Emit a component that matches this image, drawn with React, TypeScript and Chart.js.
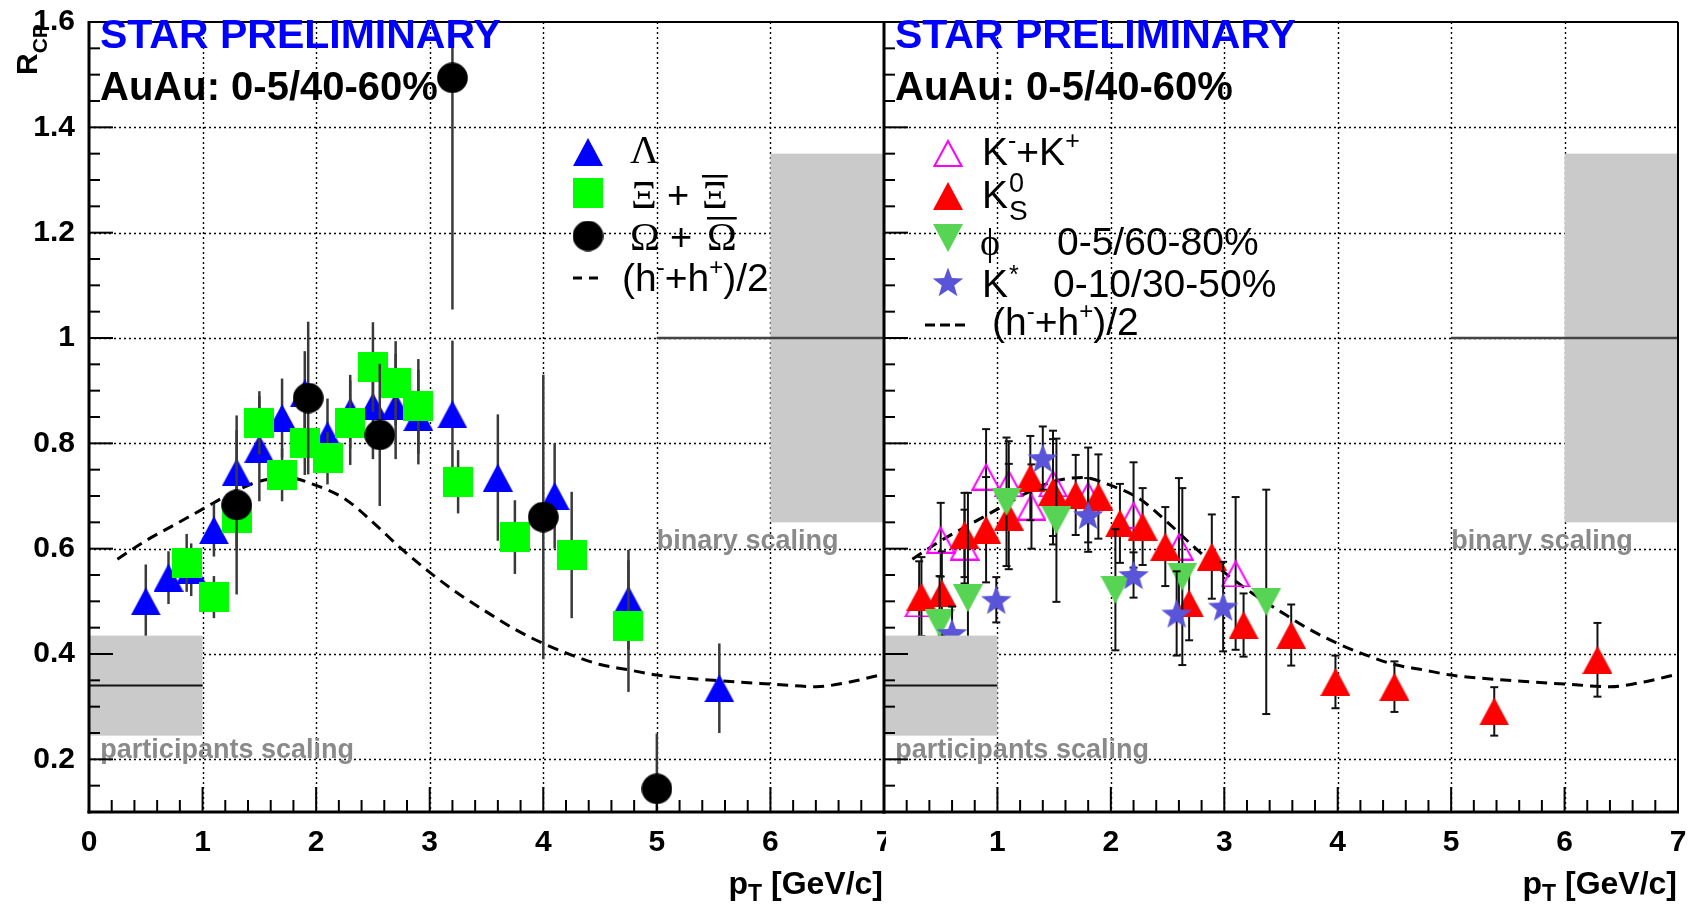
import { useEffect, useRef } from 'react';
import { Chart, registerables } from 'chart.js';

Chart.register(...registerables);

const SANS = '"Liberation Sans", Arial, Helvetica, sans-serif';
const SERIF = '"Liberation Serif", "Times New Roman", serif';

// ---- axes ----
const ptRange = [0, 7];
const rcpRange = [0.1, 1.6];
const rcpTickLabels = [0.2, 0.4, 0.6, 0.8, 1.0, 1.2, 1.4, 1.6];
const ptTickLabelsLeft = [0, 1, 2, 3, 4, 5, 6, 7];
const ptTickLabelsRight = [1, 2, 3, 4, 5, 6, 7];
const ptGrid = [1, 2, 3, 4, 5, 6];
const rcpGrid = [0.2, 0.4, 0.6, 0.8, 1.0, 1.2, 1.4];

// ---- scaling expectations: [value, half-width] ----
const participantsBand = [0.34, 0.095];
const binaryBand = [1.0, 0.35];

// ---- (h- + h+)/2 reference ----
const hadronPt = [0.25, 0.5, 0.75, 1.0, 1.25, 1.5, 1.75, 2.0, 2.25, 2.5, 2.75, 3.0, 3.25, 3.5, 3.75, 4.0, 4.25, 4.5, 4.75, 5.0, 5.5, 6.0, 6.4, 6.7, 7.0];
const hadronRcp = [0.58, 0.615, 0.645, 0.675, 0.705, 0.728, 0.735, 0.72, 0.695, 0.65, 0.6, 0.555, 0.515, 0.48, 0.447, 0.42, 0.398, 0.38, 0.37, 0.36, 0.35, 0.343, 0.338, 0.347, 0.362];

// ---- strange baryons (0-5/40-60%) ----
const lambdaPt = [0.5, 0.7, 0.9, 1.1, 1.3, 1.5, 1.7, 1.9, 2.1, 2.3, 2.5, 2.7, 2.9, 3.2, 3.6, 4.1, 4.75, 5.55];
const lambdaRcp = [0.5, 0.545, 0.56, 0.635, 0.745, 0.79, 0.848, 0.895, 0.815, 0.86, 0.87, 0.87, 0.85, 0.855, 0.735, 0.7, 0.503, 0.335];
const lambdaErr = [0.07, 0.05, 0.05, 0.05, 0.08, 0.1, 0.075, 0.08, 0.07, 0.07, 0.1, 0.1, 0.09, 0.14, 0.12, 0.1, 0.095, 0.085];

const xiPt = [0.86, 1.1, 1.3, 1.5, 1.7, 1.9, 2.1, 2.3, 2.5, 2.7, 2.9, 3.25, 3.75, 4.25, 4.75];
const xiRcp = [0.573, 0.508, 0.658, 0.839, 0.74, 0.8, 0.772, 0.839, 0.945, 0.914, 0.87, 0.727, 0.622, 0.588, 0.453];
const xiErr = [0.055, 0.04, 0.06, 0.06, 0.05, 0.06, 0.05, 0.08, 0.085, 0.08, 0.09, 0.06, 0.07, 0.12, 0.125];

const omegaPt = [1.3, 1.93, 2.56, 3.2, 4.0, 5.0];
const omegaRcp = [0.683, 0.886, 0.816, 1.494, 0.66, 0.144];
const omegaErr = [0.17, 0.145, 0.135, 0.44, 0.27, 0.105];

// ---- mesons ----
const kpmPt = [0.31, 0.5, 0.71, 0.9, 1.1, 1.3, 1.49, 1.8, 2.2, 2.6, 3.1];
const kpmRcp = [0.496, 0.617, 0.604, 0.737, 0.724, 0.68, 0.724, 0.702, 0.664, 0.604, 0.553];
const kpmErr = [0.08, 0.07, 0.07, 0.09, 0.08, 0.08, 0.1, 0.09, 0.1, 0.13, 0.145];

const k0sPt = [0.33, 0.51, 0.71, 0.9, 1.1, 1.29, 1.49, 1.69, 1.89, 2.08, 2.28, 2.48, 2.69, 2.89, 3.17, 3.59, 3.98, 4.5, 5.38, 6.29];
const k0sRcp = [0.509, 0.515, 0.626, 0.636, 0.661, 0.734, 0.708, 0.702, 0.699, 0.648, 0.642, 0.604, 0.496, 0.585, 0.455, 0.436, 0.347, 0.338, 0.291, 0.389];
const k0sErr = [0.075, 0.08, 0.08, 0.1, 0.1, 0.08, 0.1, 0.076, 0.08, 0.075, 0.073, 0.075, 0.07, 0.08, 0.06, 0.058, 0.05, 0.048, 0.046, 0.07];

const phiPt = [0.49, 0.74, 1.08, 1.52, 2.04, 2.63, 3.37];
const phiRcp = [0.458, 0.506, 0.689, 0.654, 0.522, 0.547, 0.499];
const phiErr = [0.09, 0.2, 0.122, 0.155, 0.115, 0.168, 0.213];

const kstarPt = [0.6, 0.99, 1.4, 1.8, 2.2, 2.58, 2.99];
const kstarRcp = [0.44, 0.503, 0.772, 0.664, 0.55, 0.477, 0.49];
const kstarErr = [0.05, 0.043, 0.06, 0.07, 0.043, 0.08, 0.085];

const toPoints = (xs: number[], ys: number[]) => xs.map((x, i) => ({ x, y: ys[i] }));

// ---- marker images (centred on their bounding box) ----
function makeMarker(w: number, h: number, draw: (c: CanvasRenderingContext2D) => void) {
  const cv = document.createElement('canvas');
  cv.width = w;
  cv.height = h;
  draw(cv.getContext('2d') as CanvasRenderingContext2D);
  return cv;
}

function buildMarkers() {
  const triUp = (color: string) =>
    makeMarker(30, 28, (c) => {
      c.fillStyle = color;
      c.beginPath();
      c.moveTo(15, 0);
      c.lineTo(30, 28);
      c.lineTo(0, 28);
      c.closePath();
      c.fill();
    });
  const triUpOpen = (color: string) =>
    makeMarker(30, 28, (c) => {
      c.strokeStyle = color;
      c.lineWidth = 2;
      c.beginPath();
      c.moveTo(15, 2);
      c.lineTo(28.6, 27);
      c.lineTo(1.4, 27);
      c.closePath();
      c.stroke();
    });
  const triDown = (color: string) =>
    makeMarker(30, 28, (c) => {
      c.fillStyle = color;
      c.beginPath();
      c.moveTo(0, 0);
      c.lineTo(30, 0);
      c.lineTo(15, 28);
      c.closePath();
      c.fill();
    });
  const square = (color: string) =>
    makeMarker(30, 30, (c) => {
      c.fillStyle = color;
      c.fillRect(0, 0, 30, 30);
    });
  const circle = (color: string) =>
    makeMarker(31, 31, (c) => {
      c.fillStyle = color;
      c.beginPath();
      c.arc(15.5, 15.5, 15.3, 0, Math.PI * 2);
      c.fill();
    });
  const star = (color: string) =>
    makeMarker(32, 32, (c) => {
      c.fillStyle = color;
      c.beginPath();
      const cx = 16, cy = 17.4, ro = 16, ri = 6.6;
      for (let k = 0; k < 10; k++) {
        const r = k % 2 === 0 ? ro : ri;
        const a = -Math.PI / 2 + (k * Math.PI) / 5;
        const px = cx + r * Math.cos(a), py = cy + r * Math.sin(a);
        if (k === 0) c.moveTo(px, py);
        else c.lineTo(px, py);
      }
      c.closePath();
      c.fill();
    });
  return {
    lambda: triUp('#0000ff'),
    xi: square('#00ff00'),
    omega: circle('#000000'),
    kpm: triUpOpen('#ff00ff'),
    k0s: triUp('#ff0000'),
    phi: triDown('#58d454'),
    kstar: star('#5a55d8'),
  };
}

type Markers = ReturnType<typeof buildMarkers>;

type Run = { t: string; f: string; dy?: number; x?: number; over?: number };
function drawRuns(ctx: CanvasRenderingContext2D, x0: number, y: number, list: Run[]) {
  let x = x0;
  for (const r of list) {
    if (r.x !== undefined) x = r.x;
    ctx.font = r.f;
    ctx.fillText(r.t, x, y + (r.dy || 0));
    const w = ctx.measureText(r.t).width;
    if (r.over !== undefined) ctx.fillRect(x, r.over, w, 2.5);
    x += w;
  }
  return x;
}

function seg(ctx: CanvasRenderingContext2D, x1: number, y1: number, x2: number, y2: number) {
  ctx.beginPath();
  ctx.moveTo(x1, y1);
  ctx.lineTo(x2, y2);
  ctx.stroke();
}

function drawPtTitle(ctx: CanvasRenderingContext2D, right: number, base: number) {
  const f1 = `bold 32px ${SANS}`;
  const f2 = `bold 23px ${SANS}`;
  ctx.font = f1;
  const wp = ctx.measureText('p').width;
  const wr = ctx.measureText(' [GeV/c]').width;
  ctx.font = f2;
  const wt = ctx.measureText('T').width;
  drawRuns(ctx, right - wp - wt - wr, base, [
    { t: 'p', f: f1 },
    { t: 'T', f: f2, dy: 7 },
    { t: ' [GeV/c]', f: f1 },
  ]);
}

function hadronLegend(ctx: CanvasRenderingContext2D, x: number, base: number, size: number) {
  const f = `${size}px ${SANS}`;
  const fs = `${Math.round(size * 0.62)}px ${SANS}`;
  const up = -Math.round(size * 0.42);
  drawRuns(ctx, x, base, [
    { t: '(h', f },
    { t: '-', f: fs, dy: up },
    { t: '+h', f },
    { t: '+', f: fs, dy: up },
    { t: ')/2', f },
  ]);
}

function panelPlugin(side: 'left' | 'right', offsetX: number, mk: Markers) {
  const errStyle =
    side === 'left'
      ? { color: '#3a3a3a', width: 2.5, cap: 0 }
      : { color: '#111111', width: 2, cap: 4 };
  return {
    id: 'panelDecor',
    beforeDraw(chart: any) {
      if (side !== 'right') return;
      // the right pad covers whatever of the left pad's last label spills over
      const { ctx, chartArea: a } = chart;
      ctx.save();
      ctx.fillStyle = '#fff';
      ctx.fillRect(a.left + 2, a.bottom + 2, 24, 70);
      ctx.restore();
    },
    beforeDatasetsDraw(chart: any) {
      const { ctx, chartArea: a } = chart;
      const xs = chart.scales.x, ys = chart.scales.y;
      ctx.save();
      ctx.strokeStyle = '#000';
      ctx.lineWidth = 1.4;
      ctx.setLineDash([2, 3]);
      ctx.beginPath();
      for (const v of ptGrid) {
        const p = Math.round(xs.getPixelForValue(v)) + 0.5;
        ctx.moveTo(p, a.top);
        ctx.lineTo(p, a.bottom);
      }
      for (const v of rcpGrid) {
        const p = Math.round(ys.getPixelForValue(v)) + 0.5;
        ctx.moveTo(a.left, p);
        ctx.lineTo(a.right, p);
      }
      ctx.stroke();
      ctx.restore();
    },
    beforeDatasetDraw(chart: any, args: any) {
      const ds = chart.data.datasets[args.index];
      const errs: number[] | undefined = ds.errors;
      if (!errs) return;
      const { ctx, chartArea: a } = chart;
      const xs = chart.scales.x, ys = chart.scales.y;
      ctx.save();
      ctx.beginPath();
      ctx.rect(a.left, a.top, a.right - a.left, a.bottom - a.top);
      ctx.clip();
      ctx.strokeStyle = errStyle.color;
      ctx.lineWidth = errStyle.width;
      ds.data.forEach((p: { x: number; y: number }, j: number) => {
        const px = xs.getPixelForValue(p.x);
        const top = ys.getPixelForValue(p.y + errs[j]);
        const bot = ys.getPixelForValue(p.y - errs[j]);
        seg(ctx, px, top, px, bot);
        if (errStyle.cap > 0) {
          seg(ctx, px - errStyle.cap, top, px + errStyle.cap, top);
          seg(ctx, px - errStyle.cap, bot, px + errStyle.cap, bot);
        }
      });
      ctx.restore();
    },
    afterDatasetsDraw(chart: any) {
      const { ctx, chartArea: a } = chart;
      const xs = chart.scales.x, ys = chart.scales.y;
      const X = (v: number) => xs.getPixelForValue(v);
      const Y = (v: number) => ys.getPixelForValue(v);
      ctx.save();
      ctx.textAlign = 'left';
      ctx.textBaseline = 'alphabetic';

      // scaling bands
      ctx.fillStyle = '#cacaca';
      const [pv, pe] = participantsBand;
      ctx.fillRect(X(0), Y(pv + pe), X(1) - X(0), Y(pv - pe) - Y(pv + pe));
      const [bv, be] = binaryBand;
      ctx.fillRect(X(6), Y(bv + be), X(7) - X(6), Y(bv - be) - Y(bv + be));
      ctx.strokeStyle = '#111';
      ctx.lineWidth = 2;
      seg(ctx, X(0), Y(pv), X(1), Y(pv));
      ctx.strokeStyle = '#444';
      ctx.lineWidth = 2.5;
      seg(ctx, X(5), Y(bv), X(7), Y(bv));

      ctx.fillStyle = '#8a8a8a';
      ctx.font = `bold 27px ${SANS}`;
      ctx.fillText('binary scaling', X(5), Y(0.6));
      ctx.fillText('participants scaling', X(0.1), Y(0.2) - 1);

      // frame
      ctx.strokeStyle = '#000';
      ctx.lineWidth = 3;
      seg(ctx, a.left, a.top - 1, a.left, a.bottom + 1.5);
      seg(ctx, a.left - 1.5, a.bottom, a.right + 1, a.bottom);
      ctx.lineWidth = 2;
      seg(ctx, a.left, a.top, a.right, a.top);
      seg(ctx, a.right, a.top, a.right, a.bottom);

      // inner tick marks
      ctx.lineWidth = 2;
      for (let k = 3; k <= 31; k++) {
        const py = Y(k * 0.05);
        seg(ctx, a.left, py, a.left + (k % 4 === 0 ? 24 : 11), py);
      }
      for (let k = 1; k < 35; k++) {
        const px = X(k * 0.2);
        seg(ctx, px, a.bottom, px, a.bottom - (k % 5 === 0 ? 25 : 12));
      }

      // headers, titles, legend (page coordinates)
      ctx.translate(-offsetX, 0);
      const panelLeft = a.left + offsetX;
      ctx.fillStyle = '#0000ff';
      ctx.font = `bold 41px ${SANS}`;
      ctx.fillText('STAR PRELIMINARY', panelLeft + 11, 48);
      ctx.fillStyle = '#000';
      ctx.font = `bold 40px ${SANS}`;
      ctx.fillText('AuAu: 0-5/40-60%', panelLeft + 11, 100);
      drawPtTitle(ctx, a.right + offsetX - 1, 894);

      if (side === 'left') {
        // R_CP
        ctx.save();
        ctx.translate(37, 75);
        ctx.rotate(-Math.PI / 2);
        drawRuns(ctx, 0, 0, [
          { t: 'R', f: `bold 30px ${SANS}` },
          { t: 'CP', f: `bold 21px ${SANS}`, dy: 10 },
        ]);
        ctx.restore();

        ctx.drawImage(mk.lambda, 588 - 15, 152 - 14);
        ctx.drawImage(mk.xi, 588 - 15, 193 - 15);
        ctx.drawImage(mk.omega, 588 - 15.5, 236 - 15.5);
        ctx.strokeStyle = '#000';
        ctx.lineWidth = 3;
        seg(ctx, 573, 278, 582, 278);
        seg(ctx, 589, 278, 598, 278);

        const gf = `40px ${SERIF}`;
        ctx.fillStyle = '#000';
        drawRuns(ctx, 630, 163, [{ t: 'Λ', f: gf }]);
        drawRuns(ctx, 631, 208, [
          { t: 'Ξ', f: gf },
          { t: '+', f: `38px ${SANS}`, x: 667 },
          { t: 'Ξ', f: gf, x: 702, over: 175 },
        ]);
        drawRuns(ctx, 630, 250, [
          { t: 'Ω', f: gf },
          { t: '+', f: `38px ${SANS}`, x: 670 },
          { t: 'Ω', f: gf, x: 707, over: 217 },
        ]);
        hadronLegend(ctx, 622, 291, 39);
      } else {
        ctx.drawImage(mk.kpm, 948 - 15, 153 - 14);
        ctx.drawImage(mk.k0s, 948 - 15, 196 - 14);
        ctx.drawImage(mk.phi, 948 - 15, 238 - 14);
        ctx.drawImage(mk.kstar, 948 - 16, 282 - 16);
        ctx.strokeStyle = '#000';
        ctx.lineWidth = 3;
        seg(ctx, 925, 325, 935, 325);
        seg(ctx, 940, 325, 950, 325);
        seg(ctx, 955, 325, 965, 325);

        const f = `39px ${SANS}`;
        const fsup = `25px ${SANS}`;
        ctx.fillStyle = '#000';
        drawRuns(ctx, 982, 165, [
          { t: 'K', f },
          { t: '-', f: fsup, dy: -16 },
          { t: '+K', f },
          { t: '+', f: fsup, dy: -16 },
        ]);
        const kEnd = drawRuns(ctx, 982, 208, [{ t: 'K', f }]);
        drawRuns(ctx, kEnd + 1, 208, [{ t: '0', f: `27px ${SANS}`, dy: -16 }]);
        drawRuns(ctx, kEnd + 1, 208, [{ t: 'S', f: `28px ${SANS}`, dy: 12 }]);
        drawRuns(ctx, 980, 255, [{ t: 'ϕ', f: `38px ${SERIF}` }]);
        drawRuns(ctx, 1057, 255, [{ t: '0-5/60-80%', f }]);
        const k2 = drawRuns(ctx, 982, 297, [{ t: 'K', f }]);
        drawRuns(ctx, k2 + 1, 297, [{ t: '*', f: fsup, dy: -14 }]);
        drawRuns(ctx, 1053, 297, [{ t: '0-10/30-50%', f }]);
        hadronLegend(ctx, 992, 335, 39);
      }
      ctx.restore();
    },
  };
}

function scales(side: 'left' | 'right') {
  const tickFont = { family: SANS, size: 30, weight: 'bold' as const };
  const xTicks = side === 'left' ? ptTickLabelsLeft : ptTickLabelsRight;
  return {
    x: {
      type: 'linear' as const,
      min: ptRange[0],
      max: ptRange[1],
      grid: { display: false },
      border: { display: false },
      ticks: {
        font: tickFont,
        color: '#000',
        padding: 5,
        autoSkip: false,
        maxRotation: 0,
        minRotation: 0,
        callback: (v: any) => String(v),
      },
      afterBuildTicks: (s: any) => {
        s.ticks = xTicks.map((value) => ({ value }));
      },
      afterFit: (s: any) => {
        s.height = 93;
        s.paddingLeft = 0;
        s.paddingRight = 0;
      },
    },
    y: {
      type: 'linear' as const,
      min: rcpRange[0],
      max: rcpRange[1],
      grid: { display: false },
      border: { display: false },
      ticks: {
        display: side === 'left',
        font: tickFont,
        color: '#000',
        padding: 6,
        autoSkip: false,
        callback: (v: any) => String(Math.round(Number(v) * 100) / 100),
      },
      afterBuildTicks: (s: any) => {
        s.ticks = rcpTickLabels.map((value) => ({ value }));
      },
      afterFit: (s: any) => {
        s.width = side === 'left' ? 89 : 24;
        s.paddingTop = 0;
        s.paddingBottom = 0;
      },
    },
  };
}

function hadronDataset() {
  return {
    label: '(h-+h+)/2',
    data: toPoints(hadronPt, hadronRcp),
    showLine: true,
    borderColor: '#000',
    borderWidth: 3,
    borderDash: [11, 7],
    pointRadius: 0,
    cubicInterpolationMode: 'monotone' as const,
    fill: false,
  };
}

function markerDataset(label: string, xs: number[], ys: number[], errs: number[], style: HTMLCanvasElement) {
  return {
    label,
    data: toPoints(xs, ys),
    errors: errs,
    pointStyle: style,
    pointRadius: 15,
    showLine: false,
  };
}

const LEFT_W = 900;
const RIGHT_X = 860;
const RIGHT_W = 836;

function makeConfig(side: 'left' | 'right', mk: Markers, offsetX: number, width: number): any {
  const datasets =
    side === 'left'
      ? [
          markerDataset('Ω + anti-Ω', omegaPt, omegaRcp, omegaErr, mk.omega),
          markerDataset('Ξ + anti-Ξ', xiPt, xiRcp, xiErr, mk.xi),
          markerDataset('Λ', lambdaPt, lambdaRcp, lambdaErr, mk.lambda),
          hadronDataset(),
        ]
      : [
          markerDataset('K*', kstarPt, kstarRcp, kstarErr, mk.kstar),
          markerDataset('φ', phiPt, phiRcp, phiErr, mk.phi),
          markerDataset('K0S', k0sPt, k0sRcp, k0sErr, mk.k0s),
          markerDataset('K-+K+', kpmPt, kpmRcp, kpmErr, mk.kpm),
          hadronDataset(),
        ];
  const areaRight = side === 'left' ? 885 : 1678;
  return {
    type: 'scatter',
    data: { datasets },
    options: {
      responsive: false,
      animation: false,
      events: [],
      layout: { padding: { top: 22, bottom: 0, left: 0, right: offsetX + width - areaRight } },
      plugins: { legend: { display: false }, tooltip: { enabled: false }, title: { display: false } },
      scales: scales(side),
    },
    plugins: [panelPlugin(side, offsetX, mk)],
  };
}

export default function App() {
  const leftRef = useRef<HTMLCanvasElement>(null);
  const rightRef = useRef<HTMLCanvasElement>(null);

  useEffect(() => {
    const mk = buildMarkers();
    const left = new Chart(leftRef.current as HTMLCanvasElement, makeConfig('left', mk, 0, LEFT_W));
    const right = new Chart(rightRef.current as HTMLCanvasElement, makeConfig('right', mk, RIGHT_X, RIGHT_W));
    return () => {
      left.destroy();
      right.destroy();
    };
  }, []);

  return (
    <div style={{ position: 'fixed', left: 0, top: 0, width: 1696, height: 905, background: '#fff' }}>
      <canvas ref={leftRef} width={LEFT_W} height={905} style={{ position: 'absolute', left: 0, top: 0 }} />
      <canvas ref={rightRef} width={RIGHT_W} height={905} style={{ position: 'absolute', left: RIGHT_X, top: 0 }} />
    </div>
  );
}
